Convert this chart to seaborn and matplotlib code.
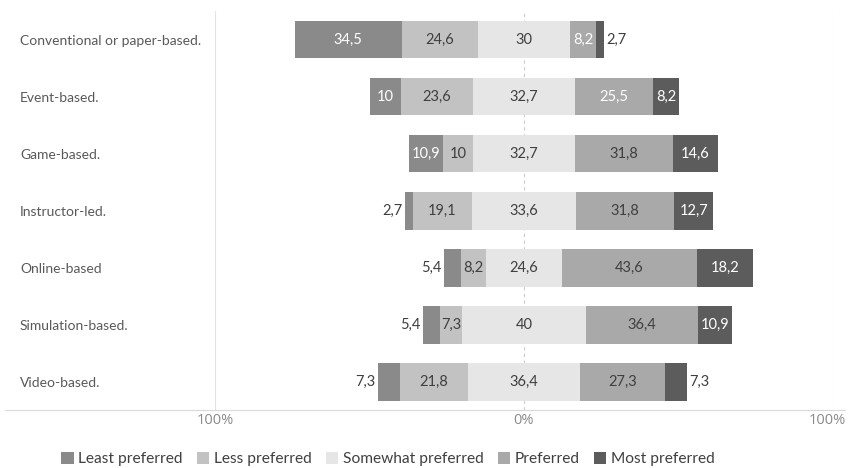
import numpy as np
import pandas as pd
import matplotlib
matplotlib.use("Agg")
import matplotlib.pyplot as plt
import matplotlib.transforms as mtransforms
from matplotlib.patches import Patch
from matplotlib.lines import Line2D
import seaborn as sns

categories = [
    "Conventional or paper-based.",
    "Event-based.",
    "Game-based.",
    "Instructor-led.",
    "Online-based",
    "Simulation-based.",
    "Video-based.",
]
least = [34.5, 10, 10.9, 2.7, 5.4, 5.4, 7.3]
less = [24.6, 23.6, 10, 19.1, 8.2, 7.3, 21.8]
somewhat = [30, 32.7, 32.7, 33.6, 24.6, 40, 36.4]
preferred = [8.2, 25.5, 31.8, 31.8, 43.6, 36.4, 27.3]
most = [2.7, 8.2, 14.6, 12.7, 18.2, 10.9, 7.3]

levels = ["Least preferred", "Less preferred", "Somewhat preferred", "Preferred", "Most preferred"]
colors = ["#8a8a8a", "#c2c2c2", "#e6e6e6", "#a9a9a9", "#5c5c5c"]
tick_values = [-100, 0, 100]
tick_labels = ["100%", "0%", "100%"]

sns.set_theme(style="white")
plt.rcParams["font.family"] = ["Lato", "DejaVu Sans"]

fig = plt.figure(figsize=(8.5, 4.68), dpi=100)
ax = fig.add_axes([0.2529, 0.1229, 0.7271, 0.8526])

lst = np.array(least, float)
lss = np.array(less, float)
sw = np.array(somewhat, float)
prf = np.array(preferred, float)
mst = np.array(most, float)
half = sw / 2

# Diverging stack: neutral category split around zero, drawn as overlaid bars
layers = [
    (-(half + lss + lst), colors[0]),
    (-(half + lss), colors[1]),
    (-half, colors[2]),
    (half + prf + mst, colors[4]),
    (half + prf, colors[3]),
    (half, colors[2]),
]
for vals, c in layers:
    df = pd.DataFrame({"category": categories, "value": vals})
    sns.barplot(data=df, x="value", y="category", orient="h", color=c,
                saturation=1, width=0.65, errorbar=None, linewidth=0,
                ax=ax, zorder=2)

# reference lines
ax.axvline(0, color="#cccccc", lw=0.8, ls=(0, (3, 3)), zorder=1)
ax.axvline(-100, color="#e3e3e3", lw=0.8, zorder=1)
ax.axvline(100, color="#e3e3e3", lw=0.8, zorder=1)

ax.set_xlim(-100, 100)
ax.set_ylim(6.5, -0.5)
ax.set_xticks(tick_values)
ax.set_xticklabels(tick_labels, color="#8a8a8a", fontsize=10.5,
                   family=["Open Sans", "DejaVu Sans"])
ax.set_xlabel("")
ax.set_ylabel("")
ax.tick_params(axis="x", length=0, pad=2)
ax.tick_params(axis="y", length=0, pad=140.4)
# keep the right-hand tick label inside the canvas
last = ax.get_xticklabels()[-1]
last.set_transform(last.get_transform() +
                   mtransforms.ScaledTranslation(-6 / 100, 0, fig.dpi_scale_trans))
for lab in ax.get_yticklabels():
    lab.set_ha("left")
    lab.set_color("#595959")
    lab.set_fontsize(10)
for s in ax.spines.values():
    s.set_visible(False)

fig.add_artist(Line2D([0.006, 0.994], [0.1229, 0.1229], transform=fig.transFigure,
                      color="#d9d9d9", lw=0.8))


def fmt(v):
    return f"{v:g}".replace(".", ",")


dark = "#3f3f3f"
white_pref = {0, 1}
for i in range(len(categories)):
    segs = [
        (-(half[i] + lss[i] + lst[i]), lst[i], 0),
        (-(half[i] + lss[i]), lss[i], 1),
        (-half[i], sw[i], 2),
        (half[i], prf[i], 3),
        (half[i] + prf[i], mst[i], 4),
    ]
    for start, w, k in segs:
        txt = fmt(w)
        if k == 0 and w < 8:
            ax.text(start - 0.8, i, txt, ha="right", va="center", color=dark, fontsize=10.5)
            continue
        if k == 4 and w < 8:
            ax.text(start + w + 0.8, i, txt, ha="left", va="center", color=dark, fontsize=10.5)
            continue
        if k in (0, 4) or (k == 3 and i in white_pref):
            col = "white"
        else:
            col = dark
        ax.text(start + w / 2, i, txt, ha="center", va="center", color=col, fontsize=10.5)

handles = [Patch(facecolor=c, edgecolor="none", label=l) for c, l in zip(colors, levels)]
fig.legend(handles=handles, loc="center", bbox_to_anchor=(0.4565, 0.0192), ncol=5,
           frameon=False, handlelength=0.8, handleheight=0.8, handletextpad=0.3,
           columnspacing=0.9, fontsize=11.2, labelcolor="#404040")

fig.savefig("out.png", dpi=100)
